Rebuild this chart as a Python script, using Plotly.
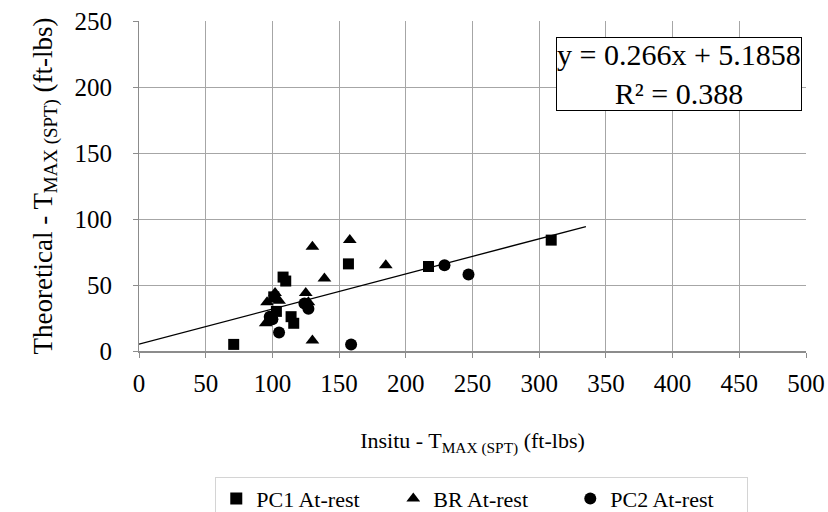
import plotly.graph_objects as go

# In-situ vs theoretical maximum torque (ft-lbs)
pc1_x = [71, 101, 103, 108, 110, 114, 116, 157, 217, 309]
pc1_y = [5, 41, 30, 56, 53, 26, 21, 66, 64, 84]

br_x = [96, 95, 99, 102, 105, 125, 127, 130, 130, 139, 158, 185]
br_y = [37, 21, 26, 44, 38, 44, 37, 79, 8, 55, 84, 65]

pc2_x = [98, 100, 105, 124, 127, 159, 229, 247]
pc2_y = [26, 24, 14, 36, 32, 5, 65, 58]

# Linear trend line
slope = 0.266
intercept = 5.1858
trend_x = [0, 335]
trend_y = [slope * v + intercept for v in trend_x]

x_ticks = [0, 50, 100, 150, 200, 250, 300, 350, 400, 450, 500]
y_ticks = [0, 50, 100, 150, 200, 250]

FONT = "Liberation Serif, Times New Roman, serif"

fig = go.Figure()
fig.add_trace(go.Scatter(x=pc1_x, y=pc1_y, mode="markers", name="PC1 At-rest",
                         marker=dict(symbol="square", size=11, color="black")))
fig.add_trace(go.Scatter(x=br_x, y=br_y, mode="markers", name="BR At-rest",
                         marker=dict(symbol="triangle-up", size=12, color="black")))
fig.add_trace(go.Scatter(x=pc2_x, y=pc2_y, mode="markers", name="PC2 At-rest",
                         marker=dict(symbol="circle", size=12, color="black")))
fig.add_trace(go.Scatter(x=trend_x, y=trend_y, mode="lines", showlegend=False,
                         line=dict(color="black", width=1.3)))

# equation box anchored at its top-right corner (data units of the plot area)
fig.add_annotation(x=(802 - 139) / 667 * 500, y=(351 - 37) / 330 * 250,
                   xref="x", yref="y", xanchor="right", yanchor="top",
                   text=f"y = {slope}x + {intercept}<br>R² = 0.388", showarrow=False,
                   font=dict(family=FONT, size=30, color="black"),
                   bordercolor="black", borderwidth=1, borderpad=0, bgcolor="white",
                   align="center")

fig.update_layout(
    width=828, height=512,
    margin=dict(l=139, r=22, t=21, b=161, autoexpand=False),
    paper_bgcolor="white", plot_bgcolor="white",
    font=dict(family=FONT, size=25, color="black"),
    showlegend=True,
    legend=dict(orientation="h", xref="container", yref="container",
                x=0.26, xanchor="left", y=0.069, yanchor="top",
                bordercolor="#d4d4d4", borderwidth=1,
                font=dict(family=FONT, size=22, color="black"),
                entrywidth=132, itemsizing="constant", itemwidth=30),
)
fig.update_xaxes(range=[0, 500], tickvals=x_ticks, showgrid=True, gridcolor="#a6a6a6",
                 gridwidth=1, zeroline=False, showline=True, linecolor="#8c8c8c",
                 linewidth=2, ticks="outside", ticklen=5, tickcolor="#8c8c8c",
                 tickfont=dict(family=FONT, size=25, color="black"),
                 ticklabelstandoff=4, automargin=False,
                 title=dict(text="Insitu - T<sub>MAX (SPT)</sub> (ft-lbs)",
                            font=dict(family=FONT, size=22, color="black"), standoff=37))
fig.update_yaxes(range=[0, 250], tickvals=y_ticks, showgrid=True, gridcolor="#a6a6a6",
                 gridwidth=1, zeroline=False, showline=True, linecolor="#8c8c8c",
                 linewidth=1, ticks="outside", ticklen=5, tickcolor="#8c8c8c",
                 tickfont=dict(family=FONT, size=25, color="black"),
                 ticklabelstandoff=16, automargin=False,
                 title=dict(text="Theoretical - T<sub>MAX (SPT)</sub> (ft-lbs)",
                            font=dict(family=FONT, size=27, color="black"), standoff=14))

fig.write_html("out.html")
